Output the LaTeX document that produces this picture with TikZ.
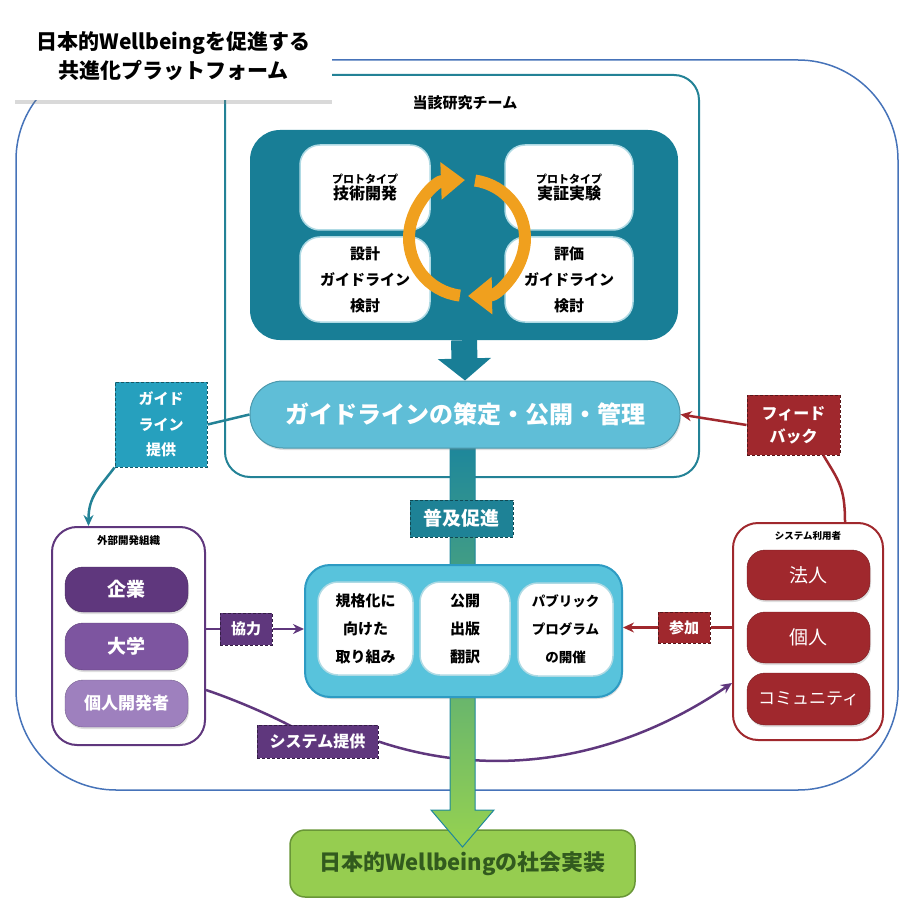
\documentclass[tikz,border=0pt]{standalone}
\usepackage{fontspec}
\setmainfont{Noto Sans CJK JP}
\usepackage{tikz}
\usetikzlibrary{arrows.meta,shadows}
\pgfdeclarelayer{back}
\pgfsetlayers{back,main}

\newcommand\fsz[2]{\fontsize{#1}{#2}\selectfont}

\definecolor{outerblue}{RGB}{70,115,185}
\definecolor{teamteal}{RGB}{35,130,150}
\definecolor{darkteal}{RGB}{24,126,150}
\definecolor{cardedge}{RGB}{175,218,228}
\definecolor{ringorange}{RGB}{240,160,30}
\definecolor{pillblue}{RGB}{95,190,215}
\definecolor{glblue}{RGB}{38,160,190}
\definecolor{promoteal}{RGB}{30,130,150}
\definecolor{progcyan}{RGB}{88,195,220}
\definecolor{progedge}{RGB}{45,155,195}
\definecolor{devpurple}{RGB}{95,55,125}
\definecolor{unipurple}{RGB}{125,85,160}
\definecolor{indpurple}{RGB}{158,128,190}
\definecolor{userred}{RGB}{160,40,45}
\definecolor{barteal}{RGB}{30,135,155}
\definecolor{barmid}{RGB}{95,180,115}
\definecolor{bargreen}{RGB}{150,210,80}
\definecolor{goalgreen}{RGB}{150,205,80}
\definecolor{goaledge}{RGB}{105,150,55}
\definecolor{goaltext}{RGB}{50,90,30}

\begin{document}
\begin{tikzpicture}[x=1pt, y=-1pt, font=\bfseries,
	card/.style={fill=white, draw=cardedge, line width=1.5pt, rounded corners=20pt, align=center, inner sep=0pt},
	pill/.style={fill=#1, draw=#1!75!black, rounded corners=18pt, text=white, minimum width=123pt, inner sep=0pt,
		drop shadow={opacity=0.25, shadow xshift=1pt, shadow yshift=-2pt}},
	tag/.style={fill=#1, draw=#1!55!black, densely dashed, line width=1pt, text=white, align=center, inner sep=0pt},
	group/.style={draw=#1, line width=2pt, rounded corners=25pt, inner sep=0pt},
	link/.style={draw=#1, line width=2.5pt},
	arrowed/.style={-{Stealth[length=11pt,width=10pt]}},
	cyc/.style={ringorange, line width=12pt, -{Triangle[length=24pt,width=36pt]}}]
	\useasboundingbox (0,0) rectangle (902,901);

	% platform and team frames
	\begin{pgfonlayer}{back}
		\draw[outerblue, line width=1.5pt, rounded corners=100pt] (16,60) rectangle (898,790);
		\node[group=teamteal, minimum width=474pt, minimum height=402pt] (team) at (462,276) {};
	\end{pgfonlayer}
	\node[font=\fsz{15}{18}\bfseries] (teamlbl) at (465,103) {当該研究チーム};

	\node[fill=white, minimum width=317pt, minimum height=87pt, align=center, font=\fsz{21}{29}\bfseries,
		drop shadow={opacity=0.3, shadow xshift=0pt, shadow yshift=-4pt}] (title) at (173.5,56.5)
		{日本的Wellbeingを促進する\\共進化プラットフォーム};

	% goal and spread bar
	\node[fill=goalgreen, draw=goaledge, line width=1.5pt, rounded corners=15pt, minimum width=345pt,
		minimum height=67pt, text=goaltext, font=\fsz{22}{26}\bfseries] (goal) at (462.5,863.5) {日本的Wellbeingの社会実装};
	\shadedraw[top color=barteal, middle color=barmid, bottom color=bargreen, draw=barteal, line width=1pt]
		(450,448) -- (475,448) -- (475,810) -- (494,810) -- (462.5,847) -- (431,810) -- (450,810) -- cycle;

	% research cycle
	\node[fill=darkteal, rounded corners=30pt, minimum width=428pt, minimum height=210pt] (core) at (464,235) {};
	\node[card, minimum width=130pt, minimum height=85pt] (dev) at (365,187.5)
		{{\fsz{11}{14}\bfseries プロトタイプ}\\[1pt]\fsz{16}{20}\bfseries 技術開発};
	\node[card, minimum width=128pt, minimum height=85pt] (test) at (569,187.5)
		{{\fsz{11}{14}\bfseries プロトタイプ}\\[1pt]\fsz{16}{20}\bfseries 実証実験};
	\node[card, minimum width=130pt, minimum height=85pt, font=\fsz{15}{26}\bfseries] (design) at (365,279.5)
		{設計\\ガイドライン\\検討};
	\node[card, minimum width=128pt, minimum height=85pt, font=\fsz{15}{26}\bfseries] (eval) at (569,279.5)
		{評価\\ガイドライン\\検討};
	\draw[cyc] (467,238) ++(97:58) arc[start angle=97, end angle=268, radius=58];
	\draw[cyc] (467,238) ++(278:58) arc[start angle=278, end angle=449, radius=58];

	\node[fill=pillblue, draw=pillblue!80!black, line width=1pt, rounded corners=33pt, minimum width=430pt,
		minimum height=67pt, text=white, font=\fsz{24}{28}\bfseries,
		drop shadow={opacity=0.25, shadow xshift=1pt, shadow yshift=-2pt}] (pill) at (465,414.5) {ガイドラインの策定・公開・管理};
	\draw[darkteal, line width=26pt, -{Triangle[length=22pt,width=52pt]}] (core.south) -- (pill.north);

	% dissemination
	\node[fill=progcyan, draw=progedge, line width=2pt, rounded corners=25pt, minimum width=317pt,
		minimum height=132pt, drop shadow={opacity=0.25, shadow xshift=1pt, shadow yshift=-2pt}] (prog) at (463.5,631) {};
	\node[card, minimum width=95pt, minimum height=93pt, font=\fsz{15}{28}\bfseries] (std) at (365.5,628.5)
		{規格化に\\向けた\\取り組み};
	\node[card, minimum width=90pt, minimum height=93pt, font=\fsz{15}{28}\bfseries] (pub) at (465,628.5)
		{公開\\出版\\翻訳};
	\node[card, minimum width=95pt, minimum height=93pt, font=\fsz{13.5}{28}\bfseries] (event) at (565.5,629.5)
		{パブリック\\プログラム\\の開催};

	% developers
	\node[group=devpurple, fill=white, minimum width=153pt, minimum height=218pt] (ext) at (128.5,636) {};
	\node[font=\fsz{10.5}{12}\bfseries] (extlbl) at (128.5,541) {外部開発組織};
	\node[pill=devpurple, minimum height=45pt, font=\fsz{19}{22}\bfseries] (corp) at (126.5,589.5) {企業};
	\node[pill=unipurple, minimum height=47pt, font=\fsz{19}{22}\bfseries] (univ) at (126.5,646.5) {大学};
	\node[pill=indpurple, minimum height=47pt, font=\fsz{17}{20}\bfseries] (indiv) at (126.5,703.5) {個人開発者};

	% users
	\node[group=userred, fill=white, minimum width=150pt, minimum height=217pt] (user) at (808,631.5) {};
	\node[font=\fsz{9.5}{12}\bfseries] (userlbl) at (808,536) {システム利用者};
	\node[pill=userred, minimum height=50pt, font=\fsz{19}{22}\mdseries] (firm) at (808.5,575) {法人};
	\node[pill=userred, minimum height=51pt, font=\fsz{19}{22}\mdseries] (person) at (808.5,637.5) {個人};
	\node[pill=userred, minimum height=52pt, font=\fsz{17}{20}\mdseries] (comm) at (808.5,699) {コミュニティ};

	% tags
	\node[tag=glblue, minimum width=92pt, minimum height=85pt, font=\fsz{15}{25.5}\bfseries] (gl) at (161,424.5)
		{ガイド\\ライン\\提供};
	\node[tag=promoteal, minimum width=103pt, minimum height=37pt, font=\fsz{19}{22}\bfseries] (promo) at (461.5,518.5) {普及促進};
	\node[tag=userred, minimum width=93pt, minimum height=60pt, font=\fsz{16}{23}\bfseries] (fb) at (793.5,425)
		{フィード\\バック};
	\node[tag=devpurple, minimum width=52pt, minimum height=32pt, font=\fsz{15}{18}\bfseries] (coop) at (246,629) {協力};
	\node[tag=userred, minimum width=52pt, minimum height=31pt, font=\fsz{15}{18}\bfseries] (join) at (684,627.5) {参加};
	\node[tag=devpurple, minimum width=121pt, minimum height=33pt, font=\fsz{16}{19}\bfseries] (sys) at (317.5,741.5) {システム提供};

	% connectors
	\draw[link=teamteal] (pill.west) -- (gl.east);
	\draw[link=teamteal, arrowed] (gl.south west) .. controls +(-15,20) and +(0,-30) .. ([xshift=-40pt]ext.north);
	\draw[link=userred, arrowed] (fb.west) -- (pill.east);
	\draw[link=userred] ([xshift=30pt]fb.south) .. controls +(15,25) and +(0,-35) .. ([xshift=37pt]user.north);
	\draw[link=devpurple] (ext.east |- coop.west) -- (coop.west);
	\draw[link=devpurple, arrowed] (coop.east) -- (coop.east -| prog.west);
	\draw[link=userred] (user.west |- join.east) -- (join.east);
	\draw[link=userred, arrowed] (join.west) -- (join.west -| prog.east);
	\begin{pgfonlayer}{back}
		\draw[link=devpurple] ([yshift=-54pt]ext.east) .. controls +(30,10) and +(-30,-20) .. (sys.center);
		\draw[link=devpurple, arrowed] (sys.east) .. controls +(120,40) and +(-110,75) .. ([yshift=-51.5pt]user.west);
	\end{pgfonlayer}
\end{tikzpicture}
\end{document}
